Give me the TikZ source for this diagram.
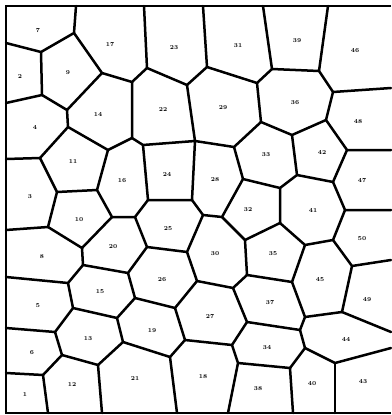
\documentclass[tikz,border=0pt]{standalone}
\usepackage{tikz}

\begin{document}
\begin{tikzpicture}[
  x=1pt, y=-1pt,
  edge/.style={line width=2.5pt, line join=round, line cap=round},
  frame/.style={line width=2.8pt},
  lab/.style={font=\bfseries\fontsize{6}{7}\selectfont, inner sep=0pt}
]
\useasboundingbox (0,0) rectangle (391,415);

% border points
\coordinate (tl) at (6,6);   \coordinate (tr) at (391,6);
\coordinate (bl) at (6,413); \coordinate (br) at (391,413);
\coordinate (t1) at (76,6);  \coordinate (t2) at (144,6);  \coordinate (t3) at (203,6);
\coordinate (t4) at (263,6); \coordinate (t5) at (328,6);
\coordinate (l1) at (6,43);  \coordinate (l2) at (6,103);  \coordinate (l3) at (6,159);
\coordinate (l4) at (6,230); \coordinate (l5) at (6,277);  \coordinate (l6) at (6,328);
\coordinate (l7) at (6,373);
\coordinate (r1) at (391,88);  \coordinate (r2) at (391,150); \coordinate (r3) at (391,210);
\coordinate (r4) at (391,260); \coordinate (r5) at (391,332); \coordinate (r6) at (391,348);
\coordinate (b1) at (48,413);  \coordinate (b2) at (102,413); \coordinate (b3) at (177,413);
\coordinate (b4) at (228,413); \coordinate (b5) at (293,413); \coordinate (b6) at (335,413);

% cell corners
\coordinate (A) at (74,33);   \coordinate (B) at (41,52);   \coordinate (C) at (42,95);
\coordinate (D) at (67,110);  \coordinate (E) at (102,73);  \coordinate (F) at (68,127);
\coordinate (G) at (132,82);  \coordinate (H) at (147,68);  \coordinate (I) at (187,85);
\coordinate (J) at (207,67);  \coordinate (K) at (257,83);  \coordinate (L) at (272,69);
\coordinate (M) at (319,71);  \coordinate (N) at (333,92);  \coordinate (O) at (326,120);
\coordinate (P) at (292,135); \coordinate (Q) at (261,122); \coordinate (R) at (195,141);
\coordinate (S1) at (132,138); \coordinate (S2) at (143,145); \coordinate (T) at (108,150);
\coordinate (U) at (40,158);  \coordinate (V) at (57,192);  \coordinate (W) at (97,190);
\coordinate (X) at (48,227);  \coordinate (Y) at (82,248);  \coordinate (Z) at (112,217);
\coordinate (AA) at (135,217); \coordinate (BB) at (148,200); \coordinate (CC) at (192,200);
\coordinate (NN) at (203,215); \coordinate (FF) at (234,147); \coordinate (GG) at (243,179);
\coordinate (HH) at (297,175); \coordinate (II) at (347,150); \coordinate (JJ) at (333,182);
\coordinate (KK) at (280,188); \coordinate (LL) at (280,223); \coordinate (MM) at (222,217);
\coordinate (OO) at (245,240); \coordinate (PP) at (345,210); \coordinate (QQ) at (333,240);
\coordinate (RR) at (305,245); \coordinate (DD) at (147,247); \coordinate (EE) at (187,252);
\coordinate (FF2) at (197,281); \coordinate (GG2) at (175,308); \coordinate (HH2) at (135,298);
\coordinate (II2) at (128,273); \coordinate (JJ2) at (83,265); \coordinate (KK2) at (68,283);
\coordinate (LL2) at (73,308); \coordinate (MM2) at (117,318); \coordinate (NN2) at (55,332);
\coordinate (OO2) at (62,355); \coordinate (PP2) at (123,342); \coordinate (QQ2) at (170,357);
\coordinate (RR2) at (185,340); \coordinate (TT2) at (98,365); \coordinate (UU2) at (43,375);
\coordinate (B6) at (233,288); \coordinate (C6) at (247,275); \coordinate (E6) at (292,282);
\coordinate (F6) at (305,317); \coordinate (G6) at (247,322); \coordinate (H6) at (300,330);
\coordinate (I6) at (342,312); \coordinate (J6) at (352,266); \coordinate (K6) at (305,348);
\coordinate (L6) at (290,368); \coordinate (M6) at (335,363); \coordinate (N6) at (232,345);
\coordinate (O6) at (238,363);

% frame
\draw[frame] (tr) -- (tl) -- (bl) -- (br);

% cell walls
\draw[edge] (t1) -- (A) -- (B) -- (l1);
\draw[edge] (A) -- (E) -- (G) -- (H) -- (t2);
\draw[edge] (B) -- (C) -- (l2);
\draw[edge] (C) -- (D) -- (E);
\draw[edge] (D) -- (F) -- (U) -- (l3);
\draw[edge] (H) -- (I) -- (J) -- (t3);
\draw[edge] (J) -- (K) -- (L) -- (t4);
\draw[edge] (L) -- (M) -- (t5);
\draw[edge] (M) -- (N) -- (r1);
\draw[edge] (N) -- (O) -- (P) -- (Q) -- (K);
\draw[edge] (G) -- (S1) -- (S2) -- (R) -- (I);
\draw[edge] (S1) -- (T) -- (F);
\draw[edge] (R) -- (FF) -- (Q);
\draw[edge] (FF) -- (GG) -- (KK) -- (HH) -- (P);
\draw[edge] (R) -- (CC) -- (BB) -- (S2);
\draw[edge] (BB) -- (AA) -- (Z) -- (W) -- (T);
\draw[edge] (W) -- (V) -- (U);
\draw[edge] (V) -- (X) -- (l4);
\draw[edge] (X) -- (Y) -- (Z);
\draw[edge] (Y) -- (JJ2) -- (II2) -- (DD) -- (AA);
\draw[edge] (DD) -- (EE) -- (NN) -- (CC);
\draw[edge] (NN) -- (MM) -- (GG);
\draw[edge] (MM) -- (OO) -- (LL) -- (KK);
\draw[edge] (O) -- (II) -- (r2);
\draw[edge] (II) -- (JJ) -- (HH);
\draw[edge] (JJ) -- (PP) -- (r3);
\draw[edge] (PP) -- (QQ) -- (RR) -- (LL);
\draw[edge] (QQ) -- (J6) -- (r4);
\draw[edge] (RR) -- (E6) -- (C6) -- (OO);
\draw[edge] (EE) -- (FF2) -- (B6) -- (C6);
\draw[edge] (FF2) -- (GG2) -- (HH2) -- (II2);
\draw[edge] (JJ2) -- (KK2) -- (l5);
\draw[edge] (KK2) -- (LL2) -- (MM2) -- (HH2);
\draw[edge] (LL2) -- (NN2) -- (l6);
\draw[edge] (NN2) -- (OO2) -- (UU2) -- (l7);
\draw[edge] (UU2) -- (b1);
\draw[edge] (OO2) -- (TT2) -- (b2);
\draw[edge] (TT2) -- (PP2) -- (MM2);
\draw[edge] (PP2) -- (QQ2) -- (b3);
\draw[edge] (QQ2) -- (RR2) -- (GG2);
\draw[edge] (RR2) -- (N6) -- (G6) -- (B6);
\draw[edge] (N6) -- (O6) -- (b4);
\draw[edge] (O6) -- (L6) -- (b5);
\draw[edge] (L6) -- (K6) -- (H6) -- (G6);
\draw[edge] (H6) -- (F6) -- (E6);
\draw[edge] (F6) -- (I6) -- (J6);
\draw[edge] (I6) -- (r5);
\draw[edge] (K6) -- (M6) -- (r6);
\draw[edge] (M6) -- (b6);

% cell numbers
\node[lab] (c1) at (25,395) {1};   \node[lab] (c2) at (20,77) {2};
\node[lab] (c3) at (30,197) {3};   \node[lab] (c4) at (35,128) {4};
\node[lab] (c5) at (38,306) {5};   \node[lab] (c6) at (32,353) {6};
\node[lab] (c7) at (38,31) {7};    \node[lab] (c8) at (42,257) {8};
\node[lab] (c9) at (68,73) {9};    \node[lab] (c10) at (79,220) {10};
\node[lab] (c11) at (73,162) {11}; \node[lab] (c12) at (72,385) {12};
\node[lab] (c13) at (88,339) {13}; \node[lab] (c14) at (98,115) {14};
\node[lab] (c15) at (100,292) {15}; \node[lab] (c16) at (122,181) {16};
\node[lab] (c17) at (110,45) {17}; \node[lab] (c18) at (203,377) {18};
\node[lab] (c19) at (152,331) {19}; \node[lab] (c20) at (113,247) {20};
\node[lab] (c21) at (135,379) {21}; \node[lab] (c22) at (163,110) {22};
\node[lab] (c23) at (174,48) {23}; \node[lab] (c24) at (167,175) {24};
\node[lab] (c25) at (168,229) {25}; \node[lab] (c26) at (162,280) {26};
\node[lab] (c27) at (210,317) {27}; \node[lab] (c28) at (215,180) {28};
\node[lab] (c29) at (223,108) {29}; \node[lab] (c30) at (215,254) {30};
\node[lab] (c31) at (238,46) {31}; \node[lab] (c32) at (248,210) {32};
\node[lab] (c33) at (266,155) {33}; \node[lab] (c34) at (267,348) {34};
\node[lab] (c35) at (273,254) {35}; \node[lab] (c36) at (295,103) {36};
\node[lab] (c37) at (270,303) {37}; \node[lab] (c38) at (258,389) {38};
\node[lab] (c39) at (297,41) {39}; \node[lab] (c40) at (312,384) {40};
\node[lab] (c41) at (313,211) {41}; \node[lab] (c42) at (322,153) {42};
\node[lab] (c43) at (363,382) {43}; \node[lab] (c44) at (346,340) {44};
\node[lab] (c45) at (320,280) {45}; \node[lab] (c46) at (355,51) {46};
\node[lab] (c47) at (362,181) {47}; \node[lab] (c48) at (358,122) {48};
\node[lab] (c49) at (367,300) {49}; \node[lab] (c50) at (362,239) {50};
\end{tikzpicture}
\end{document}
